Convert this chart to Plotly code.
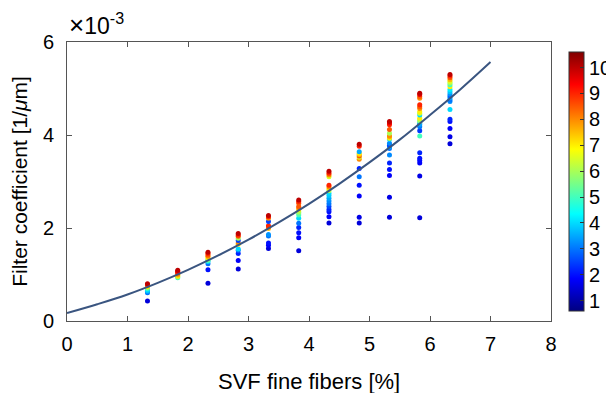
import plotly.graph_objects as go

# Fitted curve, y in units of 1e-3 1/um
curve_x = [0, 0.5, 1, 1.5, 2, 2.5, 3, 3.5, 4, 4.5, 5, 5.5, 6, 6.5, 7]
curve_y = [0.17, 0.36, 0.57, 0.82, 1.10, 1.41, 1.75, 2.12, 2.52, 2.95, 3.41, 3.90, 4.43, 4.98, 5.57]

# Scatter clusters: SVF [%], filter coefficient [1e-3 1/um], colour value
svf_133 = 1.33
y_133 = [0.43, 0.61, 0.64, 0.66, 0.70, 0.72, 0.74, 0.76, 0.78, 0.80]
c_133 = [1.5, 3.0, 3.5, 4.0, 5.0, 6.0, 7.0, 8.0, 9.0, 10]

svf_183 = 1.83
y_183 = [0.93, 0.95, 0.97, 0.99, 1.01, 1.03, 1.05, 1.07, 1.09]
c_183 = [5, 6, 7, 7.5, 8, 8.5, 9, 9.5, 10]

svf_233 = 2.33
y_233 = [0.81, 1.10, 1.23, 1.28, 1.30, 1.33, 1.36, 1.39, 1.42, 1.45, 1.48]
c_233 = [1.5, 2, 3, 4, 5, 6, 7, 8, 8.5, 9, 10]

svf_283 = 2.83
y_283 = [1.12, 1.30, 1.45, 1.52, 1.55, 1.65, 1.68, 1.73, 1.78, 1.82, 1.85, 1.88]
c_283 = [1.5, 1.8, 2.2, 3, 4, 7, 8, 2.5, 6, 8.5, 9, 10]

svf_333 = 3.33
y_333 = [1.56, 1.63, 1.68, 1.83, 1.86, 1.99, 2.02, 2.05, 2.14, 2.21, 2.24, 2.27]
c_333 = [1.5, 1.8, 2.0, 3.0, 3.3, 7.5, 8.5, 9, 2.5, 8, 9, 10]

svf_383 = 3.83
y_383 = [1.51, 1.79, 1.90, 2.01, 2.10, 2.21, 2.28, 2.32, 2.35, 2.39, 2.43, 2.46, 2.53, 2.57, 2.60]
c_383 = [1.5, 1.8, 2.0, 2.2, 3.0, 4.0, 5.0, 5.5, 6.0, 7.0, 8.0, 8.5, 8.5, 9, 10]

svf_433 = 4.33
y_433 = [2.11, 2.24, 2.35, 2.40, 2.46, 2.52, 2.58, 2.64, 2.70, 2.75, 2.80, 2.84, 2.88, 2.92, 3.10, 3.14, 3.18, 3.22]
c_433 = [1.5, 1.8, 2.0, 2.2, 2.5, 3.0, 3.2, 3.5, 3.8, 4.0, 6.0, 7.0, 8.0, 9.0, 6.5, 8, 9, 10]

svf_483 = 4.83
y_483 = [2.11, 2.23, 2.69, 2.92, 3.10, 3.28, 3.48, 3.52, 3.55, 3.58, 3.61, 3.64, 3.76, 3.80]
c_483 = [1.5, 1.6, 1.8, 2.0, 3.0, 2.2, 8, 6.5, 8.5, 7.5, 7, 3.5, 9, 10]

svf_533 = 5.33
y_533 = [2.23, 2.66, 3.13, 3.26, 3.40, 3.57, 3.71, 3.75, 3.78, 3.82, 3.91, 3.93, 3.96, 3.98, 4.04, 4.12, 4.22, 4.26, 4.29]
c_533 = [1.5, 1.6, 1.8, 2.0, 2.2, 3.2, 3.0, 3.5, 2.5, 3.2, 4.0, 7.0, 7.5, 8, 6, 8.5, 9, 9.5, 10]

svf_583 = 5.83
y_583 = [2.22, 3.12, 3.40, 3.45, 3.50, 3.62, 3.98, 4.09, 4.18, 4.22, 4.25, 4.29, 4.32, 4.36, 4.43, 4.47, 4.50, 4.57, 4.61, 4.65, 4.79, 4.83, 4.87, 4.90]
c_583 = [1.5, 1.6, 1.8, 1.9, 2.0, 2.2, 5.0, 2.4, 3.0, 3.3, 3.5, 5.5, 6, 7, 4, 6.5, 7, 8, 8.5, 9, 8, 8.5, 9.5, 10]

svf_633 = 6.33
y_633 = [3.81, 3.96, 4.14, 4.29, 4.34, 4.55, 4.72, 4.76, 4.80, 4.84, 4.88, 4.93, 4.98, 5.04, 5.08, 5.12, 5.15, 5.19, 5.23, 5.27, 5.30]
c_633 = [1.5, 1.6, 1.8, 2.0, 2.2, 4.0, 3.2, 3.0, 3.5, 2.8, 3.3, 3.8, 4.2, 7.0, 5.0, 6.0, 6.5, 7.5, 8.5, 9.0, 10]

x_ticks = [0, 1, 2, 3, 4, 5, 6, 7, 8]
y_tickvals = [0, 2e-3, 4e-3, 6e-3]
y_ticktext = ["0", "2", "4", "6"]
cbar_ticks = [1, 2, 3, 4, 5, 6, 7, 8, 9, 10]

clusters = [
    (svf_133, y_133, c_133), (svf_183, y_183, c_183), (svf_233, y_233, c_233),
    (svf_283, y_283, c_283), (svf_333, y_333, c_333), (svf_383, y_383, c_383),
    (svf_433, y_433, c_433), (svf_483, y_483, c_483), (svf_533, y_533, c_533),
    (svf_583, y_583, c_583), (svf_633, y_633, c_633),
]

xs, ys, cs = [], [], []
for sx, yl, cl in clusters:
    for yv, cv in zip(yl, cl):
        xs.append(sx)
        ys.append(yv * 1e-3)
        cs.append(cv)

jet = [[0, "rgb(0,0,128)"], [0.125, "rgb(0,0,255)"], [0.375, "rgb(0,255,255)"],
       [0.625, "rgb(255,255,0)"], [0.875, "rgb(255,0,0)"], [1, "rgb(128,0,0)"]]

FONT = "Liberation Sans, Arial, Helvetica, sans-serif"
AX = "#555555"

fig = go.Figure()
fig.add_trace(go.Scatter(
    x=xs, y=ys, mode="markers",
    marker=dict(size=5, color=cs, colorscale=jet, cmin=0.6, cmax=10.6,
                line=dict(width=0),
                colorbar=dict(x=1.0164, xanchor="left", y=0.5, yanchor="middle",
                              len=1, lenmode="fraction", thickness=15,
                              outlinewidth=1, outlinecolor="#333333",
                              tickvals=cbar_ticks, ticks="inside", ticklen=4,
                              tickcolor="#333333",
                              tickfont=dict(family=FONT, size=20, color="black"))),
    showlegend=False,
))
fig.add_trace(go.Scatter(
    x=curve_x, y=[v * 1e-3 for v in curve_y], mode="lines",
    line=dict(color="#3a5580", width=2, shape="spline"), showlegend=False,
))

fig.update_layout(
    width=614, height=393,
    margin=dict(l=59, r=71, t=34, b=80, autoexpand=False),
    paper_bgcolor="white", plot_bgcolor="white",
    font=dict(family=FONT, size=20, color="black"),
    xaxis=dict(range=[0, 8], tickvals=x_ticks, showgrid=False, zeroline=False,
               automargin=False,
               showline=True, linecolor=AX, linewidth=1, mirror="ticks",
               ticks="inside", ticklen=5, tickcolor=AX, ticklabelstandoff=5,
               tickfont=dict(size=20)),
    yaxis=dict(range=[0, 6e-3], tickvals=y_tickvals, ticktext=y_ticktext,
               showgrid=False, zeroline=False, automargin=False,
               showline=True, linecolor=AX, linewidth=1, mirror="ticks",
               ticks="inside", ticklen=5, tickcolor=AX, ticklabelstandoff=8,
               tickfont=dict(size=20),
               title=dict(text="Filter coefficient [1/<i>μ</i>m]", standoff=12, font=dict(size=21))),
    annotations=[
        dict(text="<span style='font-size:26px'>×</span>10<sup>-3</sup>", x=0, y=1,
             xref="paper", yref="paper",
             xanchor="left", yanchor="bottom", showarrow=False, yshift=0,
             font=dict(family=FONT, size=23, color="black")),
        dict(text="SVF fine fibers [%]", x=0.5, y=0, xref="paper", yref="paper",
             xanchor="center", yanchor="top", showarrow=False, yshift=-46,
             font=dict(family=FONT, size=22, color="black")),
    ],
)

fig.write_html("out.html")
